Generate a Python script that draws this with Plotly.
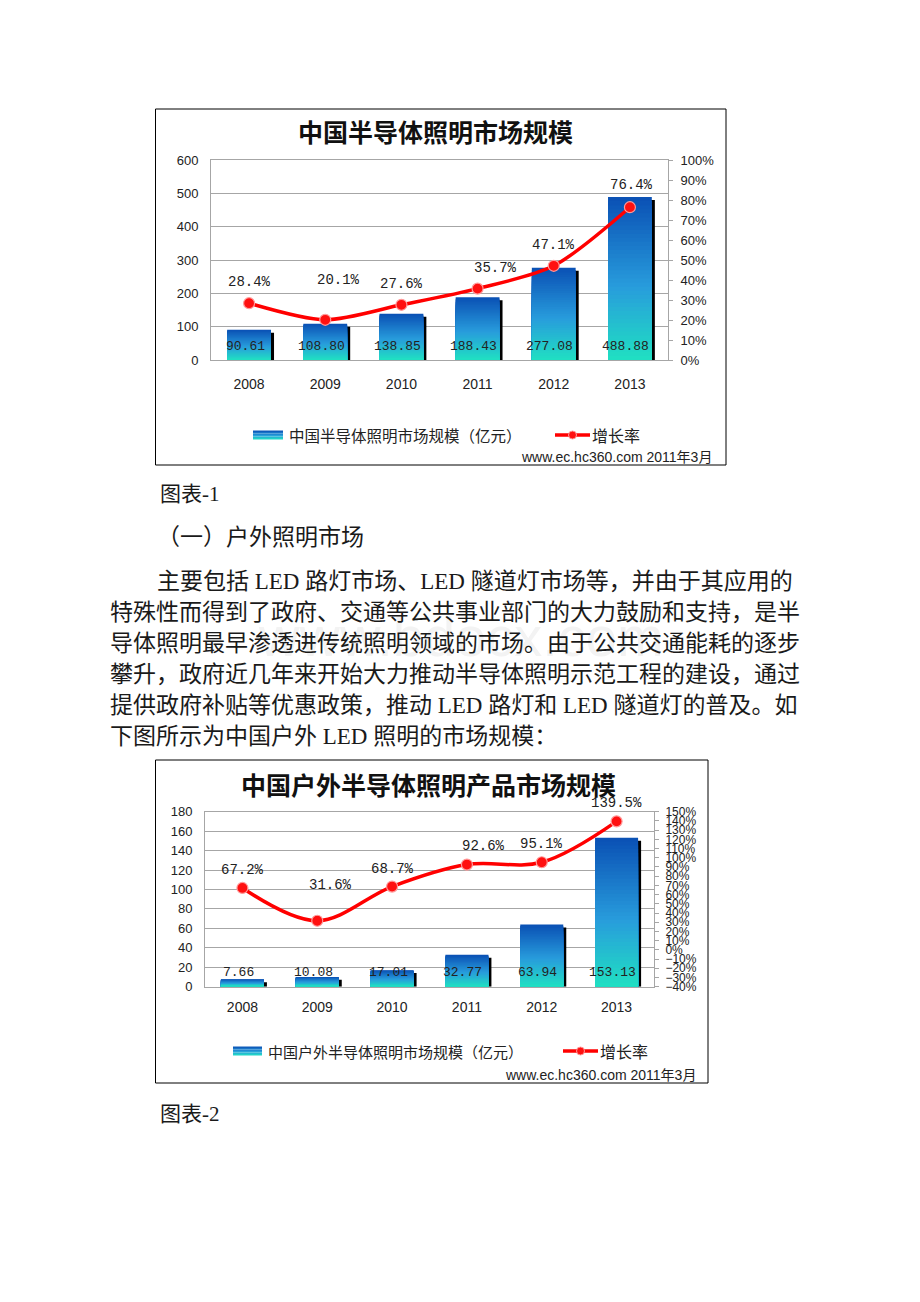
import plotly.graph_objects as go

W, H = 920, 1302

# ---------------- data ----------------
years = ["2008", "2009", "2010", "2011", "2012", "2013"]
market1 = [90.61, 108.80, 138.85, 188.43, 277.08, 488.88]
growth1 = [28.4, 20.1, 27.6, 35.7, 47.1, 76.4]
market2 = [7.66, 10.08, 17.01, 32.77, 63.94, 153.13]
growth2 = [67.2, 31.6, 68.7, 92.6, 95.1, 139.5]

title1 = "中国半导体照明市场规模"
title2 = "中国户外半导体照明产品市场规模"
legend_bar1 = "中国半导体照明市场规模（亿元）"
legend_bar2 = "中国户外半导体照明市场规模（亿元）"
legend_line = "增长率"
source_text = "www.ec.hc360.com 2011年3月"

caption1 = "图表-1"
caption2 = "图表-2"
heading = "（一）户外照明市场"
para_lines = [
    "主要包括 LED 路灯市场、LED 隧道灯市场等，并由于其应用的",
    "特殊性而得到了政府、交通等公共事业部门的大力鼓励和支持，是半",
    "导体照明最早渗透进传统照明领域的市场。由于公共交通能耗的逐步",
    "攀升，政府近几年来开始大力推动半导体照明示范工程的建设，通过",
    "提供政府补贴等优惠政策，推动 LED 路灯和 LED 隧道灯的普及。如",
    "下图所示为中国户外 LED 照明的市场规模：",
]

# ---------------- styles ----------------
g1_dx = [0, 13, 0, 18, 0, 2]
g1_dy = [21, 40, 21, 21, 21, 22]
g2_dx = [0, 13, 0, 17, 0, 0]
g2_dy = [18, 36, 18, 19, 18, 18]

SANS = "Liberation Sans, Arial, Noto Sans CJK SC"
MONO = "Liberation Mono, DejaVu Sans Mono"
CJK = "Noto Sans CJK SC"
SERIF = "Liberation Serif, Noto Sans CJK SC"
GRID = "#a6a6a6"
TXT = "#1a1a1a"
BW = 0.575
XR = [-0.5, len(years) - 0.5]


def X(px):
    return px / W


def Y(py):
    return 1 - py / H


STOPS = [(0.0, (32, 224, 194)), (0.45, (40, 156, 220)), (1.0, (10, 80, 180))]


def grad(t):
    t = max(0.0, min(1.0, t))
    for (a, ca), (b, cb) in zip(STOPS[:-1], STOPS[1:]):
        if a <= t <= b:
            u = (t - a) / (b - a)
            c = [round(ca[i] + (cb[i] - ca[i]) * u) for i in range(3)]
            return f"rgb({c[0]},{c[1]},{c[2]})"
    return "rgb(10,80,180)"


fig = go.Figure()


def add_chart(values, growth, xa, ya, ya2, sh_dx, sh_dy, smooth):
    # shadow
    fig.add_trace(go.Bar(
        x=years, y=[max(v - sh_dy, 0) for v in values], width=BW,
        offset=-BW / 2 + sh_dx, marker=dict(color="#000000", line_width=0),
        xaxis=xa, yaxis=ya, hoverinfo="skip"))
    N = 40
    for k in range(N):
        f = 1 - k / N
        fig.add_trace(go.Bar(
            x=years, y=[v * f for v in values], width=BW, offset=-BW / 2,
            marker=dict(color=grad(f - 0.5 / N), line_width=0),
            xaxis=xa, yaxis=ya, hoverinfo="skip"))
    fig.add_trace(go.Scatter(
        x=years, y=growth, mode="lines+markers",
        line=dict(color="#ff0000", width=3.5, shape="spline", smoothing=smooth),
        marker=dict(size=11, color="#ff1010", line=dict(color="#ff9a9a", width=1.2)),
        xaxis=xa, yaxis=ya2, cliponaxis=False, hoverinfo="skip"))


add_chart(market1, growth1, "x", "y", "y2", 0.04, 9, 0.8)
add_chart(market2, growth2, "x2", "y3", "y4", 0.04, 3, 1.0)

tickf = dict(family=SANS, size=13, color="#222")

fig.update_layout(
    width=W, height=H, margin=dict(l=0, r=0, t=0, b=0, autoexpand=False),
    paper_bgcolor="white", plot_bgcolor="white",
    showlegend=False, barmode="overlay", hovermode=False,
    xaxis=dict(domain=[X(211), X(668)], anchor="y", type="category",
               categoryorder="array", categoryarray=years,
               range=XR, autorange=False,
               showgrid=False, showline=True, linecolor=GRID, mirror=True,
               ticks="", ticklabelstandoff=11,
               tickfont=dict(family=SANS, size=14, color="#222")),
    yaxis=dict(domain=[Y(360), Y(160)], anchor="x", range=[0, 600], dtick=100,
               autorange=False,
               showgrid=True, gridcolor=GRID, showline=True, linecolor=GRID,
               zeroline=False, ticks="", ticklabelstandoff=9, tickfont=tickf),
    yaxis2=dict(overlaying="y", anchor="x", side="right", range=[0, 100], dtick=10,
                autorange=False,
                ticksuffix="%", showgrid=False, showline=True, linecolor=GRID,
                zeroline=False, ticks="outside", ticklen=4, tickcolor=GRID,
                ticklabelstandoff=5, tickfont=tickf),
    xaxis2=dict(domain=[X(205), X(654)], anchor="y3", type="category",
                categoryorder="array", categoryarray=years,
                range=XR, autorange=False,
                showgrid=False, showline=True, linecolor=GRID, mirror=True,
                ticks="", ticklabelstandoff=7,
                tickfont=dict(family=SANS, size=14, color="#222")),
    yaxis3=dict(domain=[Y(986.7), Y(811.7)], anchor="x2", range=[0, 180], dtick=20,
                autorange=False,
                showgrid=True, gridcolor=GRID, showline=True, linecolor=GRID,
                zeroline=False, ticks="", ticklabelstandoff=9, tickfont=tickf),
    yaxis4=dict(overlaying="y3", anchor="x2", side="right", range=[-40, 150], dtick=10,
                autorange=False,
                ticksuffix="%", showgrid=False, showline=True, linecolor=GRID,
                zeroline=False, ticks="outside", ticklen=4, tickcolor=GRID,
                ticklabelstandoff=4,
                tickfont=dict(family="Liberation Sans Narrow, Liberation Sans", size=12, color="#222")),
)

ann = []
# watermark
ann.append(dict(x=X(461), y=Y(636), xref="paper", yref="paper", text="www.bdocx.com",
                showarrow=False, font=dict(family=SANS, size=56, color="#f3f3f3")))

# growth labels and bar labels (x given as category index)
for i in range(len(years)):
    ann.append(dict(x=i, y=growth1[i], xref="x", yref="y2", text=f"{growth1[i]:.1f}%",
                    showarrow=False, xshift=g1_dx[i], yshift=g1_dy[i],
                    font=dict(family=MONO, size=14, color="#222")))
    ann.append(dict(x=i, y=0, xref="x", yref="y", text=f"{market1[i]:.2f}",
                    showarrow=False, xshift=-4, yshift=13.5,
                    font=dict(family=MONO, size=13, color="#222")))
    ann.append(dict(x=i, y=growth2[i], xref="x2", yref="y4", text=f"{growth2[i]:.1f}%",
                    showarrow=False, xshift=g2_dx[i], yshift=g2_dy[i],
                    font=dict(family=MONO, size=14, color="#222")))
    ann.append(dict(x=i, y=0, xref="x2", yref="y3", text=f"{market2[i]:.2f}",
                    showarrow=False, xshift=-4, yshift=14.5,
                    font=dict(family=MONO, size=13, color="#222")))

# chart titles
ann.append(dict(x=X(435), y=Y(131), xref="paper", yref="paper", text=f"<b>{title1}</b>",
                showarrow=False, xanchor="center", yanchor="middle",
                font=dict(family=CJK, size=25, color="#111")))
ann.append(dict(x=X(428), y=Y(784), xref="paper", yref="paper", text=f"<b>{title2}</b>",
                showarrow=False, xanchor="center", yanchor="middle",
                font=dict(family=CJK, size=25, color="#111")))


def legend(y, x_txt, bar_text, size, x_lt):
    ann.append(dict(x=X(x_txt), y=Y(y), xref="paper", yref="paper", xanchor="left",
                    yanchor="middle", text=bar_text, showarrow=False,
                    font=dict(family=CJK, size=size, color="#222")))
    ann.append(dict(x=X(x_lt), y=Y(y), xref="paper", yref="paper", xanchor="left",
                    yanchor="middle", text=legend_line, showarrow=False,
                    font=dict(family=CJK, size=16, color="#222")))


legend(435, 287, legend_bar1, 15.5, 590)
legend(1051, 266, legend_bar2, 15, 598)

ann.append(dict(x=X(714), y=Y(457), xref="paper", yref="paper", xanchor="right", yanchor="middle",
                text=source_text, showarrow=False, font=dict(family=SANS, size=14, color="#222")))
ann.append(dict(x=X(698), y=Y(1075), xref="paper", yref="paper", xanchor="right", yanchor="middle",
                text=source_text, showarrow=False, font=dict(family=SANS, size=14, color="#222")))

# document text
ann.append(dict(x=X(158), y=Y(494), xref="paper", yref="paper", xanchor="left", yanchor="middle",
                text=caption1, showarrow=False, font=dict(family=SERIF, size=21, color=TXT)))
ann.append(dict(x=X(155), y=Y(538), xref="paper", yref="paper", xanchor="left", yanchor="middle",
                text=heading, showarrow=False, font=dict(family=SERIF, size=23, color=TXT)))
line_y = [581.5, 612.5, 643.5, 674.5, 705.5, 736.5]
for j, t in enumerate(para_lines):
    ann.append(dict(x=X(155 if j == 0 else 108), y=Y(line_y[j]), xref="paper", yref="paper",
                    xanchor="left", yanchor="middle", text=t, showarrow=False,
                    font=dict(family=SERIF, size=23, color=TXT)))
ann.append(dict(x=X(158), y=Y(1114), xref="paper", yref="paper", xanchor="left", yanchor="middle",
                text=caption2, showarrow=False, font=dict(family=SERIF, size=21, color=TXT)))

fig.update_layout(annotations=ann)

# shapes: chart frames, legend symbols
shapes = []
shapes.append(dict(type="rect", xref="paper", yref="paper", x0=X(155.5), x1=X(726), y0=Y(465), y1=Y(109),
                   line=dict(color="#000", width=1), fillcolor="rgba(0,0,0,0)", layer="below"))
shapes.append(dict(type="rect", xref="paper", yref="paper", x0=X(155.5), x1=X(708), y0=Y(1083), y1=Y(760),
                   line=dict(color="#000", width=1), fillcolor="rgba(0,0,0,0)", layer="below"))


def legend_shapes(x0, x1, yc, lx0, lx1):
    nb = 6
    top, bot = yc - 4.5, yc + 4.5
    for b in range(nb):
        ya = top + (bot - top) * b / nb
        yb = top + (bot - top) * (b + 1) / nb
        shapes.append(dict(type="rect", xref="paper", yref="paper", x0=X(x0), x1=X(x1),
                           y0=Y(yb), y1=Y(ya), line=dict(width=0),
                           fillcolor=grad(1 - (b + 0.5) / nb)))
    shapes.append(dict(type="line", xref="paper", yref="paper", x0=X(lx0), x1=X(lx1),
                       y0=Y(yc), y1=Y(yc), line=dict(color="#ff0000", width=3.5)))
    cx = (lx0 + lx1) / 2
    shapes.append(dict(type="circle", xref="paper", yref="paper", x0=X(cx - 4), x1=X(cx + 4),
                       y0=Y(yc + 4), y1=Y(yc - 4), line=dict(color="#ff9a9a", width=1),
                       fillcolor="#ff1010"))


legend_shapes(253, 283, 435, 555, 590)
legend_shapes(233, 262, 1051, 563, 598)

fig.update_layout(shapes=shapes)

fig.write_html("out.html")
